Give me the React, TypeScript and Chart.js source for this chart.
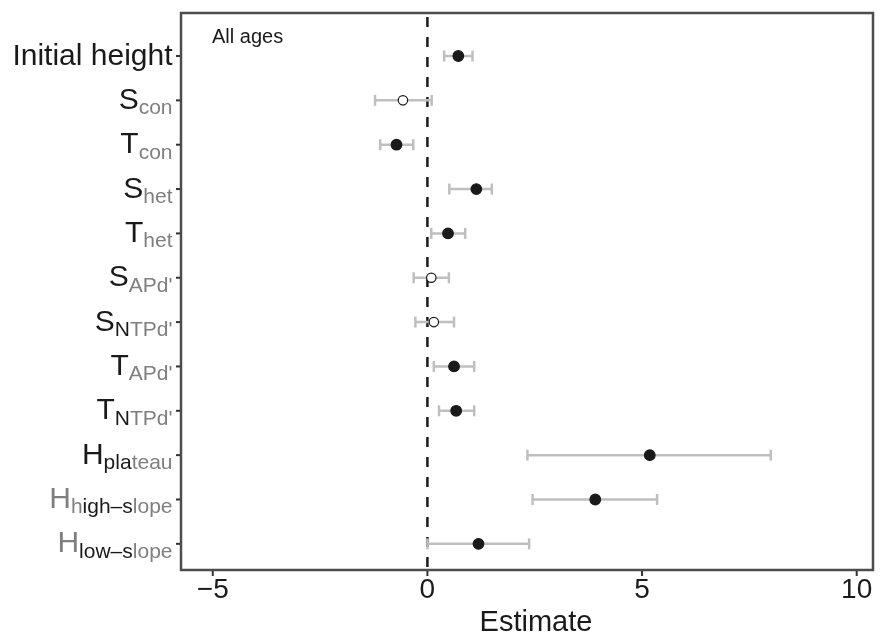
import React, { useEffect, useRef } from "react";
import { Chart, registerables } from "chart.js";

Chart.register(...registerables);

// ---- data ----
const rowNames = [
  "Initial height", "S_con", "T_con", "S_het", "T_het", "S_APd'", "S_NTPd'",
  "T_APd'", "T_NTPd'", "H_plateau", "H_high-slope", "H_low-slope",
];
const estimates = [0.72, -0.57, -0.72, 1.14, 0.48, 0.09, 0.15, 0.62, 0.67, 5.18, 3.91, 1.19];
const lowerCI = [0.39, -1.22, -1.1, 0.51, 0.09, -0.32, -0.28, 0.15, 0.27, 2.33, 2.45, 0.0];
const upperCI = [1.05, 0.1, -0.33, 1.5, 0.88, 0.5, 0.62, 1.09, 1.09, 8.0, 5.35, 2.37];
const filledPoint = [true, false, true, true, true, false, false, true, true, true, true, true];
const xTickValues = [-5, 0, 5, 10];
const xTickLabels = ["\u22125", "0", "5", "10"];
const xTitle = "Estimate";
const panelLabel = "All ages";

// label pieces: [text, "big" | "sub", tone]
const BLACK = "#1a1a1a";
const GREY = "#7f7f7f";
const labelParts: [string, string, string][][] = [
  [["Initial height", "big", "k"]],
  [["S", "big", "k"], ["con", "sub", "g"]],
  [["T", "big", "k"], ["con", "sub", "g"]],
  [["S", "big", "k"], ["het", "sub", "g"]],
  [["T", "big", "k"], ["het", "sub", "g"]],
  [["S", "big", "k"], ["APd'", "sub", "g"]],
  [["S", "big", "k"], ["N", "sub", "k"], ["TPd'", "sub", "g"]],
  [["T", "big", "k"], ["APd'", "sub", "g"]],
  [["T", "big", "k"], ["N", "sub", "k"], ["TPd'", "sub", "g"]],
  [["H", "big", "k"], ["pla", "sub", "k"], ["teau", "sub", "g"]],
  [["H", "big", "g"], ["h", "sub", "g"], ["igh\u2013s", "sub", "k"], ["lope", "sub", "g"]],
  [["H", "big", "g"], ["low\u2013s", "sub", "k"], ["lope", "sub", "g"]],
];

const FONT = '"Liberation Sans", Arial, Helvetica, sans-serif';
const Y_MIN = -0.97;
const Y_MAX = 11.59;

const decor = {
  id: "decor",
  afterDraw(chart: any) {
    const { ctx, chartArea: a, scales } = chart;
    const x = scales.x;
    const y = scales.y;
    ctx.save();
    // panel border
    ctx.strokeStyle = "#4d4d4d";
    ctx.lineWidth = 2.5;
    ctx.strokeRect(a.left, a.top, a.right - a.left, a.bottom - a.top);

    // x ticks + labels
    ctx.strokeStyle = "#333333";
    ctx.lineWidth = 2;
    ctx.fillStyle = BLACK;
    ctx.font = `28px ${FONT}`;
    ctx.textAlign = "center";
    ctx.textBaseline = "alphabetic";
    xTickValues.forEach((v, i) => {
      const px = x.getPixelForValue(v);
      ctx.beginPath();
      ctx.moveTo(px, a.bottom + 1);
      ctx.lineTo(px, a.bottom + 6);
      ctx.stroke();
      ctx.fillText(xTickLabels[i], px, a.bottom + 28);
    });
    // x title
    ctx.font = `29px ${FONT}`;
    ctx.fillText(xTitle, a.left + 355, a.bottom + 61);

    // y ticks + labels
    rowNames.forEach((_, i) => {
      const py = y.getPixelForValue(i);
      ctx.strokeStyle = "#333333";
      ctx.lineWidth = 2;
      ctx.beginPath();
      ctx.moveTo(a.left - 1, py);
      ctx.lineTo(a.left - 5, py);
      ctx.stroke();
      let right = a.left - 8.5;
      ctx.textAlign = "right";
      const parts = labelParts[i];
      for (let j = parts.length - 1; j >= 0; j--) {
        const [txt, kind, tone] = parts[j];
        const big = kind === "big";
        ctx.font = big ? `30px ${FONT}` : `21px ${FONT}`;
        ctx.fillStyle = tone === "k" ? BLACK : GREY;
        ctx.fillText(txt, right, py + (big ? 8.5 : 14));
        right -= ctx.measureText(txt).width;
      }
    });

    // panel label
    ctx.textAlign = "left";
    ctx.fillStyle = BLACK;
    ctx.font = `20px ${FONT}`;
    ctx.fillText(panelLabel, a.left + 31, a.top + 30);
    ctx.restore();
  },
};

export default function App() {
  const ref = useRef<HTMLCanvasElement | null>(null);
  useEffect(() => {
    if (!ref.current) return;
    const errorSets = rowNames.map((_, i) => ({
      type: "scatter",
      showLine: true,
      data: [
        { x: lowerCI[i], y: i },
        { x: upperCI[i], y: i },
      ],
      borderColor: "#bfbfbf",
      borderWidth: 2.5,
      pointStyle: "line",
      rotation: 90,
      pointRadius: 5.5,
      pointBorderColor: "#bfbfbf",
      pointBorderWidth: 2.5,
      order: 1,
    }));
    const chart = new Chart(ref.current, {
      type: "scatter",
      data: {
        datasets: [
          {
            data: estimates.map((v, i) => ({ x: v, y: i })),
            pointRadius: estimates.map((_, i) => (filledPoint[i] ? 5.3 : 4.7)),
            pointBackgroundColor: filledPoint.map((f) => (f ? BLACK : "#ffffff")),
            pointBorderColor: BLACK,
            pointBorderWidth: 1.2,
            order: 0,
          },
          ...errorSets,
          {
            showLine: true,
            data: [
              { x: 0, y: Y_MIN },
              { x: 0, y: Y_MAX },
            ],
            borderColor: BLACK,
            borderWidth: 2.5,
            borderDash: [10, 10],
            borderDashOffset: -4,
            pointRadius: 0,
            order: 2,
          },
        ] as any,
      },
      options: {
        animation: false,
        responsive: false,
        maintainAspectRatio: false,
        layout: { padding: { left: 181, top: 13, right: 1.5, bottom: 63 } },
        plugins: { legend: { display: false }, tooltip: { enabled: false } },
        scales: {
          x: { type: "linear", min: -5.74, max: 10.38, display: false },
          y: { type: "linear", min: Y_MIN, max: Y_MAX, reverse: true, display: false },
        },
      },
      plugins: [decor],
    } as any);
    return () => chart.destroy();
  }, []);
  return (
    <div style={{ position: "fixed", left: 0, top: 0, width: 881, height: 633, background: "#fff" }}>
      <canvas ref={ref} width={881} height={633} style={{ width: 881, height: 633, display: "block" }} />
    </div>
  );
}
